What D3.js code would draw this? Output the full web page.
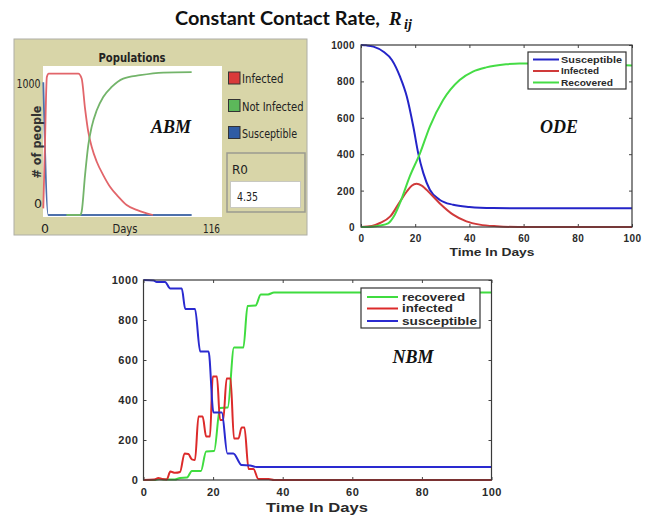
<!DOCTYPE html>
<html>
<head>
<meta charset="utf-8">
<script src="https://cdn.jsdelivr.net/npm/d3@7"></script>
<style>
  body { margin: 0; background: #fff; }
  svg { display: block; }
</style>
</head>
<body>
<div id="chart"></div>
<script>
// title
var titleMain = "Constant Contact Rate,";
var titleSym = "R", titleSub = "ij";

// ABM panel (NetLogo style), [day, people]
var abmTitle = "Populations";
var abmLegend = ["Infected", "Not Infected", "Susceptible"];
var abmXLabels = ["0", "Days", "116"];
var abmYLabels = ["1000", "0"];
var abmR0 = "4.35";
var abmInfected = [[0,50],[1,500],[2.3,1040],[3.5,1065],[22.7,1065],[24.9,1028],[27.1,802],[29.2,626],[31.4,514],[34.7,401],[38.9,301],[43.3,213],[48.7,138],[54.1,75],[60.6,38],[67.1,13],[71.2,0]];
var abmNotInfected = [[15,0],[24,0],[24.9,25],[27.1,301],[29.2,526],[31.4,664],[34.7,789],[38.9,889],[44.4,965],[51.9,1028],[62.8,1053],[77.9,1073],[96.3,1077]];
var abmSusceptible = [[0,1000],[3.2,0],[96.3,0]];

// ODE panel
var odeLegend = ["Susceptible", "Infected", "Recovered"];
var odeS = [[0,1000],[2,998],[4.6,991],[8.3,963],[11.4,918],[14.4,826],[16.9,717],[19.3,552],[21.1,406],[23,296],[25.4,205],[29,150],[34,122],[40,110],[48.7,104],[60,103],[100,103]];
var odeI = [[0,0],[4,5],[7,22],[10.8,58],[14.4,140],[16.9,195],[18.7,227],[20.5,237],[22.4,228],[25.4,186],[29,131],[34,68],[38.9,31],[43.8,13],[50,4],[58,0],[100,0]];
var odeR = [[0,0],[4,2],[7,8],[10,20],[12.2,60],[14.4,132],[18,278],[21.8,406],[25.4,552],[30.3,698],[36.4,808],[41.3,854],[46.2,877],[53.5,894],[58.4,899],[70.7,899],[85,895],[100,888]];

// NBM panel
var nbmLegend = ["recovered", "infected", "susceptible"];
var nbmR = [[0,0],[3,0],[4.5,5],[6,2],[9,2],[10.5,10],[12.5,12],[13.9,45],[16.5,45],[18,143],[20.3,145],[22,360],[24.2,362],[26,662],[28.7,662],[29.9,870],[32.2,872],[33.7,927],[35.8,928],[37.5,937],[100,937]];
var nbmI = [[0,0],[3,2],[4.3,10],[5.3,5],[6.7,3],[7.7,42],[9.1,36],[10.5,40],[11.8,133],[12.9,130],[13.9,103],[14.8,100],[15.8,317],[17,317],[18,217],[19.1,217],[19.9,517],[21.1,517],[22,300],[22.9,300],[23.9,508],[25,508],[26,208],[27.3,208],[28.2,263],[29,263],[30.2,55],[31.6,55],[33,5],[36,5],[37.5,0],[100,0]];
var nbmS = [[0,1000],[2.9,998],[3.8,990],[6.2,990],[7.7,957],[11,957],[12,855],[14.8,855],[16.3,642],[18.7,642],[20.1,338],[22.5,338],[24.1,133],[25.8,133],[28.2,75],[30.6,73],[32.5,65],[100,65]];

var matXTicks = [0, 20, 40, 60, 80, 100];
var matYTicks = [0, 200, 400, 600, 800, 1000];

var svg = d3.select("#chart").append("svg").attr("width", 653).attr("height", 516);
svg.append("rect").attr("width", 653).attr("height", 516).attr("fill", "#fff");

// title
svg.append("text").attr("x", 175).attr("y", 25)
    .attr("font-family", "Lato, 'Open Sans', sans-serif").attr("font-weight", "bold")
    .attr("font-size", 18).attr("fill", "#111")
    .attr("textLength", 205).attr("lengthAdjust", "spacingAndGlyphs")
    .text(titleMain);
svg.append("text").attr("x", 389).attr("y", 25)
    .attr("font-family", "'Liberation Serif', 'DejaVu Serif', serif").attr("font-style", "italic")
    .attr("font-weight", "bold").attr("font-size", 19).attr("fill", "#111").text(titleSym);
svg.append("text").attr("x", 404).attr("y", 29)
    .attr("font-family", "'Liberation Serif', 'DejaVu Serif', serif").attr("font-style", "italic")
    .attr("font-weight", "bold").attr("font-size", 14).attr("fill", "#111").text(titleSub);

function lineFor(x, y) {
    return d3.line().x(function(d){ return x(d[0]); }).y(function(d){ return y(d[1]); }).curve(d3.curveMonotoneX);
}

// ---------- ABM ----------
function drawABM() {
    var g = svg.append("g");
    var tahoma = "'DejaVu Sans', sans-serif";
    g.append("rect").attr("x", 14).attr("y", 39).attr("width", 293).attr("height", 196)
        .attr("fill", "#d8d5a8").attr("stroke", "#aeaea6");
    g.append("rect").attr("x", 43).attr("y", 66).attr("width", 179).attr("height", 151).attr("fill", "#fff");

    var x = d3.scaleLinear().domain([0, 116]).range([43.3, 222]);
    var y = d3.scaleLinear().domain([0, 1115]).range([215, 67]);

    g.append("text").attr("x", 132).attr("y", 62).attr("text-anchor", "middle")
        .attr("font-family", tahoma).attr("font-weight", "bold").attr("font-size", 12.5)
        .attr("textLength", 67).attr("lengthAdjust", "spacingAndGlyphs").attr("fill", "#222").text(abmTitle);

    var series = [[abmSusceptible, "#4d70ab"], [abmInfected, "#e2656a"], [abmNotInfected, "#73b46a"]];
    series.forEach(function(s) {
        g.append("path").datum(s[0]).attr("d", lineFor(x, y)).attr("fill", "none")
            .attr("stroke", s[1]).attr("stroke-width", 1.8);
    });

    g.append("text").attr("x", 171).attr("y", 133).attr("text-anchor", "middle")
        .attr("font-family", "'Liberation Serif', 'DejaVu Serif', serif").attr("font-style", "italic")
        .attr("font-weight", "bold").attr("font-size", 18).attr("fill", "#111").text("ABM");

    // axis texts
    g.append("text").attr("x", 40.5).attr("y", 88).attr("text-anchor", "end").attr("font-family", tahoma)
        .attr("font-size", 12.5).attr("textLength", 24).attr("lengthAdjust", "spacingAndGlyphs").attr("fill", "#222").text(abmYLabels[0]);
    g.append("text").attr("x", 42).attr("y", 208).attr("text-anchor", "end").attr("font-family", tahoma)
        .attr("font-size", 12.5).attr("fill", "#222").text(abmYLabels[1]);
    g.append("text").attr("transform", "translate(40.5,142) rotate(-90)").attr("text-anchor", "middle")
        .attr("font-family", tahoma).attr("font-weight", "bold").attr("font-size", 12.5)
        .attr("textLength", 73).attr("lengthAdjust", "spacingAndGlyphs").attr("fill", "#333").text("# of people");
    g.append("text").attr("x", 45).attr("y", 233).attr("text-anchor", "middle").attr("font-family", tahoma)
        .attr("font-size", 12.5).attr("fill", "#222").text(abmXLabels[0]);
    g.append("text").attr("x", 125).attr("y", 233).attr("text-anchor", "middle").attr("font-family", tahoma)
        .attr("font-size", 12.5).attr("textLength", 25).attr("lengthAdjust", "spacingAndGlyphs").attr("fill", "#222").text(abmXLabels[1]);
    g.append("text").attr("x", 220).attr("y", 233).attr("text-anchor", "end").attr("font-family", tahoma)
        .attr("font-size", 12.5).attr("textLength", 17).attr("lengthAdjust", "spacingAndGlyphs").attr("fill", "#222").text(abmXLabels[2]);

    // legend
    var legColors = ["#d93a3a", "#5cb85a", "#2f5ca3"];
    var legY = [72, 99.5, 126.5];
    var legW = [41.5, 61.5, 55];
    abmLegend.forEach(function(name, i) {
        g.append("rect").attr("x", 228.5).attr("y", legY[i]).attr("width", 11.5).attr("height", 12)
            .attr("fill", legColors[i]).attr("stroke", "#333").attr("stroke-width", 1);
        g.append("text").attr("x", 242).attr("y", legY[i] + 11).attr("font-family", tahoma)
            .attr("font-size", 12.5).attr("textLength", legW[i]).attr("lengthAdjust", "spacingAndGlyphs")
            .attr("fill", "#222").text(name);
    });

    // R0 monitor
    g.append("rect").attr("x", 227).attr("y", 153).attr("width", 78).attr("height", 59)
        .attr("fill", "#d8d5a8").attr("stroke", "#9a9a90").attr("stroke-width", 1.5);
    g.append("rect").attr("x", 230.5).attr("y", 181.5).attr("width", 70).attr("height", 26)
        .attr("fill", "#fff").attr("stroke", "#c8c8c0");
    g.append("text").attr("x", 232).attr("y", 174).attr("font-family", tahoma).attr("font-size", 12)
        .attr("fill", "#222").text("R0");
    g.append("text").attr("x", 237).attr("y", 201).attr("font-family", tahoma).attr("font-size", 12.5)
        .attr("textLength", 21).attr("lengthAdjust", "spacingAndGlyphs").attr("fill", "#222").text(abmR0);
}

// ---------- MATLAB style panels ----------
function drawMatlab(o) {
    var g = svg.append("g");
    var arial = "'Liberation Sans', Arial, sans-serif";
    var x = d3.scaleLinear().domain([0, 100]).range([o.left, o.right]);
    var y = d3.scaleLinear().domain([0, 1000]).range([o.bottom, o.top]);

    g.append("rect").attr("x", o.left).attr("y", o.top).attr("width", o.right - o.left)
        .attr("height", o.bottom - o.top).attr("fill", "#fff");

    var axB = g.append("g").attr("transform", "translate(0," + o.bottom + ")")
        .call(d3.axisBottom(x).tickValues(matXTicks).tickSize(-3).tickSizeOuter(0).tickFormat(d3.format("d")));
    var axL = g.append("g").attr("transform", "translate(" + o.left + ",0)")
        .call(d3.axisLeft(y).tickValues(matYTicks).tickSize(-3).tickSizeOuter(0).tickFormat(d3.format("d")));
    g.append("g").attr("transform", "translate(0," + o.top + ")")
        .call(d3.axisTop(x).tickValues(matXTicks).tickSize(-3).tickSizeOuter(0).tickFormat(""));
    g.append("g").attr("transform", "translate(" + o.right + ",0)")
        .call(d3.axisRight(y).tickValues(matYTicks).tickSize(-3).tickSizeOuter(0).tickFormat(""));
    g.selectAll(".domain").remove();
    g.selectAll(".tick line").attr("stroke", "#444");

    axB.selectAll("text").attr("y", o.xLabOff).attr("dy", 0).attr("font-family", arial)
        .attr("font-weight", "bold").attr("font-size", o.fs).attr("letter-spacing", o.ls).attr("fill", "#2a2a2a");
    axL.selectAll("text").attr("x", -o.yLabOff).attr("dy", "0.35em").attr("font-family", arial)
        .attr("font-weight", "bold").attr("font-size", o.fs).attr("letter-spacing", o.ls).attr("fill", "#2a2a2a");

    o.series.forEach(function(s) {
        g.append("path").datum(s.data).attr("d", lineFor(x, y)).attr("fill", "none")
            .attr("stroke", s.color).attr("stroke-width", 2);
    });

    g.append("rect").attr("x", o.left).attr("y", o.top).attr("width", o.right - o.left)
        .attr("height", o.bottom - o.top).attr("fill", "none").attr("stroke", "#3a3a3a").attr("stroke-width", 1.2);

    g.append("text").attr("x", o.xTitleX).attr("y", o.xTitleY).attr("text-anchor", "middle")
        .attr("font-family", arial).attr("font-weight", "bold").attr("font-size", o.xTitleFs)
        .attr("textLength", o.xTitleW).attr("lengthAdjust", "spacingAndGlyphs").attr("fill", "#2a2a2a").text("Time In Days");

    // legend
    var L = o.legend;
    g.append("rect").attr("x", L.x).attr("y", L.y).attr("width", L.w).attr("height", L.h)
        .attr("fill", "#fff").attr("stroke", "#333").attr("stroke-width", 1.2);
    o.series.forEach(function(s, i) {
        var ly = L.rows[i];
        g.append("line").attr("x1", L.lx1).attr("x2", L.lx2).attr("y1", ly).attr("y2", ly)
            .attr("stroke", s.color).attr("stroke-width", 2);
        g.append("text").attr("x", L.tx).attr("y", ly).attr("dy", "0.36em").attr("font-family", arial)
            .attr("font-weight", "bold").attr("font-size", L.fs).attr("textLength", L.tw[i])
            .attr("lengthAdjust", "spacingAndGlyphs").attr("fill", "#2a2a2a").text(s.name);
    });

    g.append("text").attr("x", o.tagX).attr("y", o.tagY).attr("text-anchor", "middle")
        .attr("font-family", "'Liberation Serif', 'DejaVu Serif', serif").attr("font-style", "italic")
        .attr("font-weight", "bold").attr("font-size", 18).attr("fill", "#111").text(o.tag);
}

drawABM();

drawMatlab({
    left: 361, right: 632, top: 45, bottom: 227, fs: 10, ls: 0.4, xLabOff: 15, yLabOff: 6,
    xTitleX: 492, xTitleY: 256, xTitleFs: 11, xTitleW: 85,
    series: [
        { name: odeLegend[0], data: odeS, color: "#2424c8" },
        { name: odeLegend[1], data: odeI, color: "#d03a3a" },
        { name: odeLegend[2], data: odeR, color: "#45dc45" }
    ],
    legend: { x: 528, y: 52, w: 98, h: 37, rows: [59.5, 71, 82.5], lx1: 533, lx2: 559, tx: 561, fs: 9.5, tw: [61, 38, 52] },
    tag: "ODE", tagX: 559, tagY: 133
});

drawMatlab({
    left: 143.5, right: 491.5, top: 280, bottom: 480, fs: 11, ls: 0.6, xLabOff: 16, yLabOff: 5,
    xTitleX: 317, xTitleY: 512, xTitleFs: 13, xTitleW: 102,
    series: [
        { name: nbmLegend[0], data: nbmR, color: "#3fdc3f" },
        { name: nbmLegend[1], data: nbmI, color: "#dc2a2a" },
        { name: nbmLegend[2], data: nbmS, color: "#2a2ad0" }
    ],
    legend: { x: 361, y: 288, w: 119, h: 40, rows: [297, 308.5, 321], lx1: 367, lx2: 398, tx: 402, fs: 10.5, tw: [63, 51, 75] },
    tag: "NBM", tagX: 413, tagY: 363
});
</script>
</body>
</html>
